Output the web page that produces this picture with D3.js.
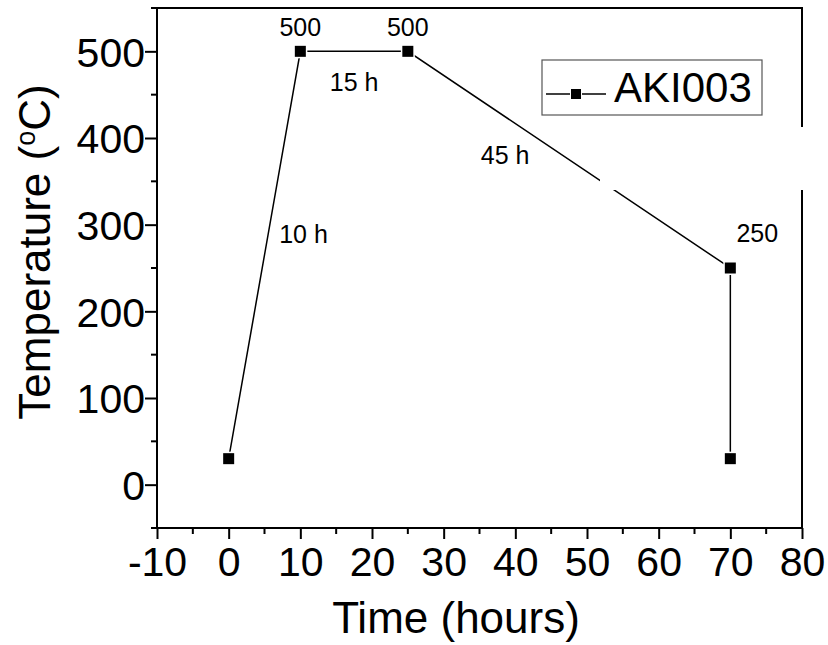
<!DOCTYPE html>
<meta charset="utf-8">
<style>
body { margin: 0; background: #fff; }
text { font-family: Arial, "Liberation Sans", sans-serif; fill: #000; }
.axis path, .axis line { stroke: #000; stroke-width: 2px; }
</style>
<body>
<svg width="828" height="645"></svg>
<script src="https://cdnjs.cloudflare.com/ajax/libs/d3/7.8.5/d3.min.js"></script>
<script>

// data
var hours = [0, 10, 25, 70, 70];
var temps = [30, 500, 500, 250, 30];
var xTicks = [-10, 0, 10, 20, 30, 40, 50, 60, 70, 80];
var yTicks = [0, 100, 200, 300, 400, 500];
var notes = [
  {x: 10, y: 500, text: "500", dx: 0, dy: -15},
  {x: 25, y: 500, text: "500", dx: 0, dy: -15},
  {x: 17.5, y: 500, text: "15 h", dx: 0, dy: 40},
  {x: 47.5, y: 375, text: "45 h", dx: -64, dy: 4},
  {x: 5, y: 265, text: "10 h", dx: 39, dy: -12},
  {x: 70, y: 250, text: "250", dx: 27, dy: -26}
];

var svg = d3.select("svg");
var pL = 157, pR = 802, pT = 8, pB = 528;

var x = d3.scaleLinear().domain([-10, 80]).range([pL, pR]);
var y = d3.scaleLinear().domain([-50, 550]).range([pB, pT]);

// frame
svg.append("rect")
  .attr("x", pL).attr("y", pT)
  .attr("width", pR - pL).attr("height", pB - pT)
  .attr("fill", "none").attr("stroke", "#000").attr("stroke-width", 2);

// minor ticks
svg.append("g").selectAll("line")
  .data(d3.range(-5, 80, 10))
  .enter().append("line")
  .attr("x1", d => x(d)).attr("x2", d => x(d))
  .attr("y1", pB).attr("y2", pB + 6)
  .attr("stroke", "#000").attr("stroke-width", 2);
svg.append("g").selectAll("line")
  .data(d3.range(-50, 551, 100))
  .enter().append("line")
  .attr("y1", d => y(d)).attr("y2", d => y(d))
  .attr("x1", pL).attr("x2", pL - 6)
  .attr("stroke", "#000").attr("stroke-width", 2);

var xAxis = svg.append("g")
  .attr("class", "axis")
  .attr("transform", "translate(0," + pB + ")")
  .call(d3.axisBottom(x).tickValues(xTicks).tickFormat(d => String(d))
    .tickSize(11).tickPadding(8).tickSizeOuter(0));
xAxis.select(".domain").remove();
xAxis.attr("font-family", null).attr("font-size", null);
xAxis.selectAll("text").style("font-size", "41px").attr("dy", "0.71em");

var yAxis = svg.append("g")
  .attr("class", "axis")
  .attr("transform", "translate(" + pL + ",0)")
  .call(d3.axisLeft(y).tickValues(yTicks).tickFormat(d => String(d))
    .tickSize(12).tickPadding(0).tickSizeOuter(0));
yAxis.select(".domain").remove();
yAxis.attr("font-family", null).attr("font-size", null);
yAxis.selectAll("text").style("font-size", "41px").attr("dy", "0.36em");

// axis titles
svg.append("text")
  .attr("x", 456).attr("y", 633)
  .attr("text-anchor", "middle")
  .style("font-size", "44px")
  .text("Time (hours)");

var yt = svg.append("text")
  .attr("transform", "translate(50,252) rotate(-90)")
  .attr("text-anchor", "middle")
  .style("font-size", "44px");
yt.append("tspan").text("Temperature (");
yt.append("tspan").attr("dy", -15).style("font-size", "27px").text("o");
yt.append("tspan").attr("dy", 15).text("C)");

// series
var line = d3.line().x(d => x(d[0])).y(d => y(d[1]));
var pts = d3.zip(hours, temps);
svg.append("path")
  .datum(pts)
  .attr("d", line)
  .attr("fill", "none")
  .attr("stroke", "#000")
  .attr("stroke-width", 1.5);

svg.append("g").selectAll("rect")
  .data(pts)
  .enter().append("rect")
  .attr("x", d => x(d[0]) - 5.5).attr("y", d => y(d[1]) - 5.5)
  .attr("width", 11).attr("height", 11)
  .attr("fill", "#000")
  .attr("stroke", "#fff").attr("stroke-width", 3)
  .attr("paint-order", "stroke");

// annotations
svg.append("g").selectAll("text")
  .data(notes)
  .enter().append("text")
  .attr("x", d => x(d.x) + d.dx).attr("y", d => y(d.y) + d.dy)
  .attr("text-anchor", "middle")
  .style("font-size", "25px")
  .text(d => d.text);

// legend
var lg = svg.append("g").attr("transform", "translate(542,60)");
lg.append("rect")
  .attr("width", 220).attr("height", 55)
  .attr("fill", "#fff").attr("stroke", "#555").attr("stroke-width", 1.2);
lg.append("line")
  .attr("x1", 4).attr("x2", 64).attr("y1", 34).attr("y2", 34)
  .attr("stroke", "#000").attr("stroke-width", 1.5);
lg.append("rect")
  .attr("x", 29).attr("y", 29).attr("width", 10).attr("height", 10)
  .attr("fill", "#000").attr("stroke", "#fff").attr("stroke-width", 2)
  .attr("paint-order", "stroke");
lg.append("text")
  .attr("x", 72).attr("y", 42)
  .style("font-size", "42px")
  .text("AKI003");

// white patch over the right edge, as in the source image
svg.append("rect")
  .attr("x", 600).attr("y", 127)
  .attr("width", 228).attr("height", 63)
  .attr("fill", "#fff");

</script>
</body>
